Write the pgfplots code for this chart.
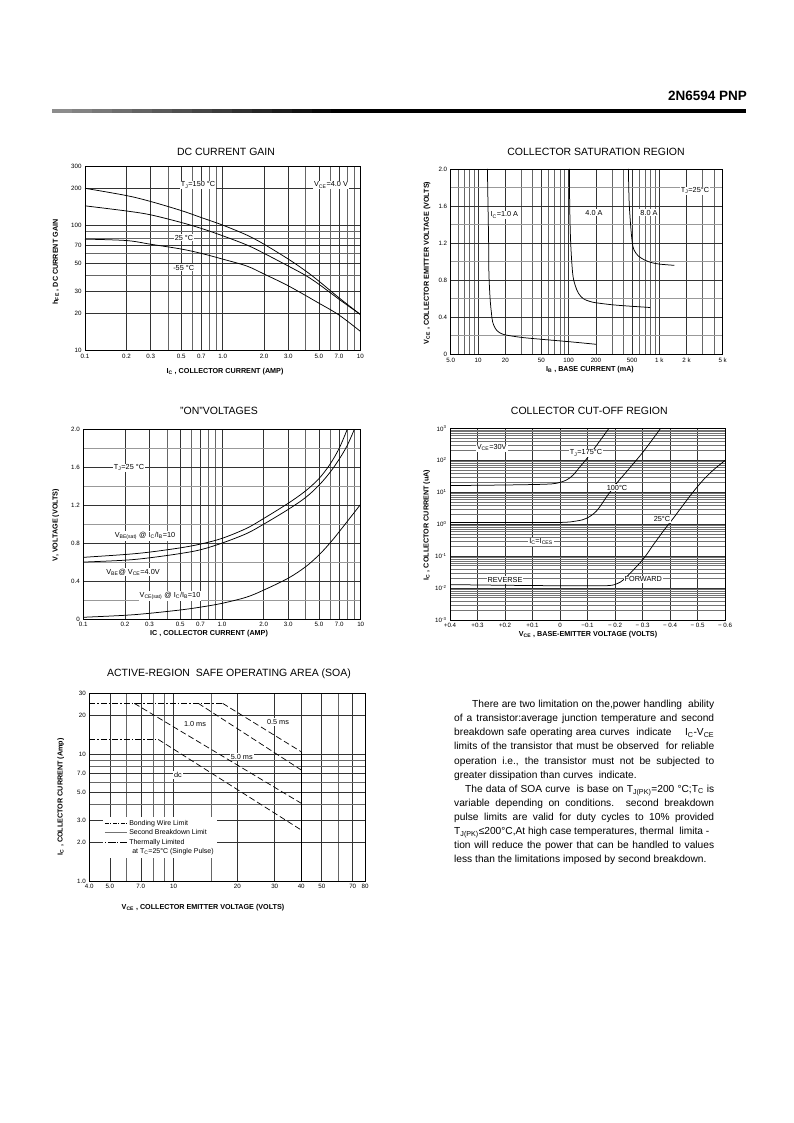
\documentclass[border=0pt]{standalone}
\usepackage{fontspec}
\setmainfont{Liberation Sans}
\usepackage{pgfplots}
\pgfplotsset{compat=1.18}
\newcommand{\sub}[1]{\textsubscript{#1}}
\newcommand{\sups}[1]{\textsuperscript{#1}}
\newcommand{\ttl}{\fontsize{10.5}{12}\selectfont}
\newcommand{\axl}{\fontsize{7.2}{8.5}\selectfont\bfseries}
\newcommand{\lbl}{\fontsize{7.3}{8.5}\selectfont}
\newcommand{\txt}{\fontsize{10.2}{12}\selectfont}
\begin{document}
\begin{tikzpicture}
\useasboundingbox[fill=white] (0pt,0pt) rectangle (793pt,1123pt);
\pgfplotsset{
  dsheet/.style={
    scale only axis, anchor=south west,
    axis line style={line width=0.8pt},
    tick style={draw=none},
    /pgf/number format/assume math mode=true,
    tick label style={font=\fontsize{6.2}{7}\selectfont},
    grid=both,
    major grid style={black!80, line width=0.55pt},
    minor grid style={black!60, line width=0.45pt},
  },
  crv/.style={black, line width=0.75pt, smooth, tension=0.55, mark=none, forget plot},
}
% header
\node[anchor=base east, font=\fontsize{13.5}{16}\selectfont\bfseries, inner sep=0pt] at (747pt,1022.5pt) {2N6594 PNP};
\foreach \i in {0,...,13} {
  \pgfmathtruncatemacro\g{45+\i*4}
  \fill[black!\g] ({52pt+\i*20pt},1009.7pt) rectangle ({72.5pt+\i*20pt},1013.7pt);
}
\fill[black] (331pt,1009.7pt) rectangle (746pt,1013.7pt);

% ================= Chart 1: DC current gain
\begin{axis}[dsheet, at={(85pt,772.3pt)}, width=275.3pt, height=184.7pt,
  xmode=log, ymode=log, xmin=0.1, xmax=10, ymin=10, ymax=300,
  xtick={0.1,0.2,0.3,0.5,0.7,1,2,3,5,7,10},
  xticklabels={0.1,0.2,0.3,0.5,0.7,1.0,2.0,3.0,5.0,7.0,10},
  minor xtick={0.4,0.6,0.8,0.9,4,6,8,9},
  ytick={10,20,30,50,70,100,200,300},
  yticklabels={10,20,30,50,70,100,200,300},
  minor ytick={40,60,80,90}]
\addplot[crv] coordinates {(0.1,199)(0.2,174)(0.3,156)(0.5,132)(0.7,116)(1.0,101)(1.5,84)(2.0,71)(3.0,54)(4.0,43.5)(5.0,36)(7.0,26.5)(10,19.5)};
\addplot[crv] coordinates {(0.1,144)(0.2,131)(0.3,122)(0.5,106)(0.7,95)(1.0,83)(1.5,70)(2.0,60)(3.0,47.5)(4.0,40)(5.0,34)(7.0,25.8)(10,19.5)};
\addplot[crv] coordinates {(0.1,78)(0.2,76)(0.3,71)(0.5,65)(0.7,60)(1.0,54)(1.5,47.5)(2.0,41)(3.0,33)(5.0,24)(7.0,19.3)(10,14.3)};
\end{axis}
\node[font=\ttl] at (226pt,971pt) {DC CURRENT GAIN};
\node[font=\axl] at (225pt,751pt) {I\sub{C} , COLLECTOR CURRENT (AMP)};
\node[font=\axl, rotate=90] at (55.7pt,861pt) {h\sub{FE} , DC CURRENT GAIN};
\node[font=\lbl, fill=white, inner sep=1pt] at (198pt,938pt) {T\sub{J}=150 °C};
\node[font=\lbl, fill=white, inner sep=1pt] at (331pt,938pt) {V\sub{CE}=4.0 V};
\node[font=\lbl, fill=white, inner sep=1pt] at (184pt,885.3pt) {25 °C};
\node[font=\lbl, fill=white, inner sep=1pt] at (183.7pt,855.3pt) {-55 °C};

% ================= Chart 2: Collector saturation region
\begin{axis}[dsheet, at={(450.7pt,768.7pt)}, width=272pt, height=185.3pt,
  xmode=log, xmin=5, xmax=5000, ymin=0, ymax=2,
  xtick={5,10,20,50,100,200,500,1000,2000,5000},
  xticklabels={5.0,10,20,50,100,200,500,1 k,2 k,5 k},
  minor xtick={6,7,8,9,30,40,60,70,80,90,300,400,600,700,800,900,3000,4000},
  ytick={0,0.4,0.8,1.2,1.6,2.0},
  yticklabels={0,0.4,0.8,1.2,1.6,2.0},
  minor ytick={0.2,0.6,1.0,1.4,1.8},
  minor y grid style={black!40, line width=0.8pt}]
\addplot[crv] coordinates {(12.7,2.0)(12.9,1.6)(13.1,1.2)(13.2,0.87)(13.6,0.6)(14.05,0.45)(14.5,0.35)(15.5,0.28)(16.9,0.24)(19.0,0.215)(22.6,0.20)(31.6,0.18)(52.6,0.16)(103.5,0.135)(200,0.108)};
\addplot[crv] coordinates {(102,2.0)(102.7,1.6)(105.3,1.2)(110.8,0.87)(117.5,0.75)(128,0.66)(145,0.60)(172,0.57)(204,0.555)(339,0.53)(791,0.505)};
\addplot[crv] coordinates {(456,2.0)(467,1.6)(504,1.2)(553,1.09)(628,1.04)(757,1.0)(975,0.975)(1466,0.96)};
\end{axis}
\node[font=\ttl] at (596pt,971.3pt) {COLLECTOR SATURATION REGION};
\node[font=\axl] at (590pt,753pt) {I\sub{B} , BASE CURRENT (mA)};
\node[font=\axl, rotate=90] at (427pt,860pt) {V\sub{CE} , COLLECTOR EMITTER VOLTAGE (VOLTS)};
\node[font=\lbl, fill=white, inner sep=1pt] at (504.3pt,908pt) {I\sub{C}=1.0 A};
\node[font=\lbl, fill=white, inner sep=1pt] at (594pt,910.3pt) {4.0 A};
\node[font=\lbl, fill=white, inner sep=1pt] at (649pt,910.3pt) {8.0 A};
\node[font=\lbl, fill=white, inner sep=1pt] at (695pt,932.3pt) {T\sub{J}=25°C};

% ================= Chart 3: "ON" voltages
\begin{axis}[dsheet, at={(83.3pt,504pt)}, width=277.4pt, height=189.7pt,
  xmode=log, xmin=0.1, xmax=10, ymin=0, ymax=2,
  xtick={0.1,0.2,0.3,0.5,0.7,1,2,3,5,7,10},
  xticklabels={0.1,0.2,0.3,0.5,0.7,1.0,2.0,3.0,5.0,7.0,10},
  minor xtick={0.4,0.6,0.8,0.9,4,6,8,9},
  ytick={0,0.4,0.8,1.2,1.6,2.0},
  yticklabels={0,0.4,0.8,1.2,1.6,2.0},
  minor ytick={0.2,0.6,1.0,1.4,1.8},
  minor y grid style={black!40, line width=0.8pt}]
\addplot[crv] coordinates {(0.1,0.65)(0.2,0.68)(0.3,0.705)(0.5,0.75)(0.7,0.79)(1.0,0.85)(1.5,0.955)(2.0,1.06)(3.0,1.22)(4.0,1.35)(5.0,1.48)(6.0,1.63)(7.0,1.80)(8.0,2.0)};
\addplot[crv] coordinates {(0.1,0.60)(0.2,0.62)(0.3,0.645)(0.5,0.69)(0.7,0.73)(1.0,0.80)(1.5,0.90)(2.0,1.0)(3.0,1.155)(4.0,1.28)(5.0,1.41)(6.0,1.545)(7.0,1.685)(8.0,1.83)(9.0,2.0)};
\addplot[crv] coordinates {(0.1,0.018)(0.2,0.039)(0.3,0.06)(0.5,0.095)(0.7,0.125)(1.0,0.165)(1.5,0.23)(2.0,0.305)(3.0,0.43)(4.0,0.55)(5.0,0.675)(6.0,0.80)(7.0,0.92)(10,1.21)};
\end{axis}
\node[font=\ttl] at (219pt,712.3pt) {"ON"VOLTAGES};
\node[font=\axl] at (209pt,489pt) {IC , COLLECTOR CURRENT (AMP)};
\node[font=\axl, rotate=90] at (55.7pt,598pt) {V, VOLTAGE (VOLTS)};
\node[font=\lbl, fill=white, inner sep=1pt] at (129pt,655.3pt) {T\sub{J}=25 °C};
\node[font=\lbl, fill=white, inner sep=1pt] at (145pt,587.3pt) {V\sub{BE(sat)} @ I\sub{C}/I\sub{B}=10};
\node[font=\lbl, fill=white, inner sep=1pt] at (133pt,551pt) {V\sub{BE}@ V\sub{CE}=4.0V};
\node[font=\lbl, fill=white, inner sep=1pt] at (170pt,527pt) {V\sub{CE(sat)} @ I\sub{C}/I\sub{B}=10};

% ================= Chart 4: Collector cut-off region
\begin{axis}[dsheet, at={(450pt,503pt)}, width=275pt, height=191.7pt,
  ymode=log, xmin=-0.6, xmax=0.4, x dir=reverse, ymin=1e-3, ymax=1e3,
  xtick={0.4,0.3,0.2,0.1,0,-0.1,-0.2,-0.3,-0.4,-0.5,-0.6},
  xticklabels={+0.4,+0.3,+0.2,+0.1,0,−0.1,− 0.2,− 0.3,− 0.4,− 0.5,− 0.6},
  ytick={1e-3,1e-2,1e-1,1,1e1,1e2,1e3},
  yticklabels={10\sups{-3},10\sups{-2},10\sups{-1},10\sups{0},10\sups{1},10\sups{2},10\sups{3}},
  minor ytick={2e-3,3e-3,4e-3,5e-3,6e-3,7e-3,8e-3,9e-3,2e-2,3e-2,4e-2,5e-2,6e-2,7e-2,8e-2,9e-2,2e-1,3e-1,4e-1,5e-1,6e-1,7e-1,8e-1,9e-1,2,3,4,5,6,7,8,9,20,30,40,50,60,70,80,90,200,300,400,500,600,700,800,900},
  minor y grid style={black!55, line width=0.45pt}]
\addplot[crv] coordinates {(0.4,16.1)(0.2,16.8)(0.06,17.7)(0.012,19.1)(-0.024,24.2)(-0.048,34.7)(-0.073,63)(-0.091,95)(-0.121,211)(-0.152,489)(-0.178,1000)};
\addplot[crv] coordinates {(0.4,1.12)(0.2,1.12)(0,1.13)(-0.061,1.26)(-0.097,1.53)(-0.133,2.59)(-0.170,7.3)(-0.206,19)(-0.242,44)(-0.303,186)(-0.366,1000)};
\addplot[crv] coordinates {(0.4,0.0128)(0.2,0.0122)(0,0.0118)(-0.1,0.0118)(-0.18,0.012)(-0.21,0.014)(-0.23,0.0179)(-0.261,0.0327)(-0.303,0.0813)(-0.339,0.223)(-0.376,0.612)(-0.412,1.53)(-0.448,3.99)(-0.485,10.4)(-0.521,24.2)(-0.558,49.8)(-0.6,98)};
\end{axis}
\node[font=\ttl] at (589.3pt,712.3pt) {COLLECTOR CUT-OFF REGION};
\node[font=\axl] at (588pt,488pt) {V\sub{CE} , BASE-EMITTER VOLTAGE (VOLTS)};
\node[font=\axl, rotate=90] at (426.7pt,598pt) {I\sub{C} , COLLECTOR CURRENT (uA)};
\node[font=\lbl, fill=white, inner sep=1pt] at (491.7pt,675.3pt) {V\sub{CE}=30V};
\node[font=\lbl, fill=white, inner sep=1pt] at (586pt,670pt) {T\sub{J}=175°C};
\node[font=\lbl, fill=white, inner sep=1pt] at (617pt,635.3pt) {100°C};
\node[font=\lbl, fill=white, inner sep=1pt] at (662pt,604pt) {25°C};
\node[font=\lbl, fill=white, inner sep=1pt] at (541pt,581.3pt) {I\sub{C}=I\sub{CES}};
\node[font=\lbl, fill=white, inner sep=1pt] at (505pt,543pt) {REVERSE};
\node[font=\lbl, fill=white, inner sep=1pt] at (643.3pt,543.7pt) {FORWARD};

% ================= Chart 5: SOA
\begin{axis}[dsheet, at={(89.3pt,242pt)}, width=275.7pt, height=187.7pt,
  xmode=log, ymode=log, xmin=4, xmax=80, ymin=1, ymax=30,
  xtick={4,5,7,10,20,30,40,50,70,80},
  xticklabels={4.0,5.0,7.0,10,20,30,40,50,70,80},
  minor xtick={6,8,9,15,60},
  ytick={1,2,3,5,7,10,20,30},
  yticklabels={1.0,2.0,3.0,5.0,7.0,10,20,30},
  minor ytick={4,6,8,9},
  legend style={at={(0.05,0.341)}, anchor=north west, draw=none, fill=white,
    font=\fontsize{7}{7.5}\selectfont, inner sep=1pt, row sep=-1.2pt,
    cells={anchor=west}},
  legend image code/.code={\draw[#1] (0pt,0pt) -- (22pt,0pt);}]
\addlegendimage{black, line width=0.6pt, dash pattern=on 4pt off 1.5pt on 1pt off 1.5pt}
\addlegendentry{Bonding Wire Limit}
\addlegendimage{black!55, line width=1pt}
\addlegendentry{Second Breakdown Limit}
\addlegendimage{black, line width=0.6pt, dash pattern=on 1.5pt off 1.5pt on 8pt off 1pt}
\addlegendentry{Thermally Limited}
\addlegendimage{empty legend}
\addlegendentry{\hspace*{3pt}at T\sub{C}=25°C (Single Pulse)}
\addplot[black, line width=0.7pt, dash pattern=on 6pt off 2pt on 1.5pt off 2pt, forget plot] coordinates {(4,25)(17.0,25)};
\addplot[black, line width=0.7pt, dash pattern=on 6pt off 2pt on 1.5pt off 2pt, forget plot] coordinates {(4,13)(8.46,13)};
\addplot[black, line width=0.7pt, dash pattern=on 6pt off 3pt, forget plot] coordinates {(6.52,25)(40,4.09)};
\addplot[black, line width=0.7pt, dash pattern=on 6pt off 3pt, forget plot] coordinates {(13.07,25)(40,7.48)};
\addplot[black, line width=0.7pt, dash pattern=on 6pt off 3pt, forget plot] coordinates {(17.03,25)(40,10.4)};
\addplot[black, line width=0.7pt, dash pattern=on 6pt off 3pt, forget plot] coordinates {(8.46,13)(40,2.52)};
\addplot[black, line width=1.1pt, forget plot] coordinates {(40,10.4)(40,1)};
\end{axis}
\node[font=\ttl] at (229pt,449pt) {ACTIVE-REGION\ \ SAFE OPERATING AREA (SOA)};
\node[font=\axl] at (203pt,215pt) {V\sub{CE} , COLLECTOR EMITTER VOLTAGE (VOLTS)};
\node[font=\axl, rotate=90] at (60.7pt,326.3pt) {I\sub{C} , COLLECTOR CURRENT (Amp)};
\node[font=\lbl, fill=white, inner sep=1pt] at (195pt,399pt) {1.0 ms};
\node[font=\lbl, fill=white, inner sep=1pt] at (278pt,401pt) {0.5 ms};
\node[font=\lbl, fill=white, inner sep=1pt] at (241.7pt,366.3pt) {5.0 ms};
\node[font=\lbl, fill=white, inner sep=1pt] at (178pt,348pt) {dc};

% ================= Paragraph
\begin{scope}[every node/.style={anchor=base west, inner sep=0pt, font=\txt}]
\node at (472pt,415.3pt) {\makebox[242pt][s]{There are two limitation on the,power handling\ \ ability}};
\node at (454pt,401.2pt) {\makebox[260pt][s]{of a transistor:average junction temperature and second}};
\node at (454pt,387.1pt) {\makebox[260pt][s]{breakdown safe operating area curves\ \ indicate\ \ \ \ I\sub{C}-V\sub{CE}}};
\node at (454pt,373pt) {\makebox[260pt][s]{limits of the transistor that must be observed\ \ for reliable}};
\node at (454pt,358.9pt) {\makebox[260pt][s]{operation i.e., the transistor must not be subjected to}};
\node at (454pt,344.8pt) {greater dissipation than curves\ \ indicate.};
\node at (465pt,330.7pt) {\makebox[249pt][s]{The data of SOA curve\ \ is base on T\sub{J(PK)}=200 °C;T\sub{C} is}};
\node at (454pt,316.6pt) {\makebox[260pt][s]{variable depending on conditions. second breakdown}};
\node at (454pt,302.5pt) {\makebox[260pt][s]{pulse limits are valid for duty cycles to 10\% provided}};
\node at (454pt,288.4pt) {\makebox[255pt][s]{T\sub{J(PK)}≤200°C,At high case temperatures, thermal\ \ limita -}};
\node at (454pt,274.3pt) {\makebox[260pt][s]{tion will reduce the power that can be handled to values}};
\node at (454pt,260.2pt) {less than the limitations imposed by second breakdown.};
\end{scope}
\end{tikzpicture}
\end{document}
